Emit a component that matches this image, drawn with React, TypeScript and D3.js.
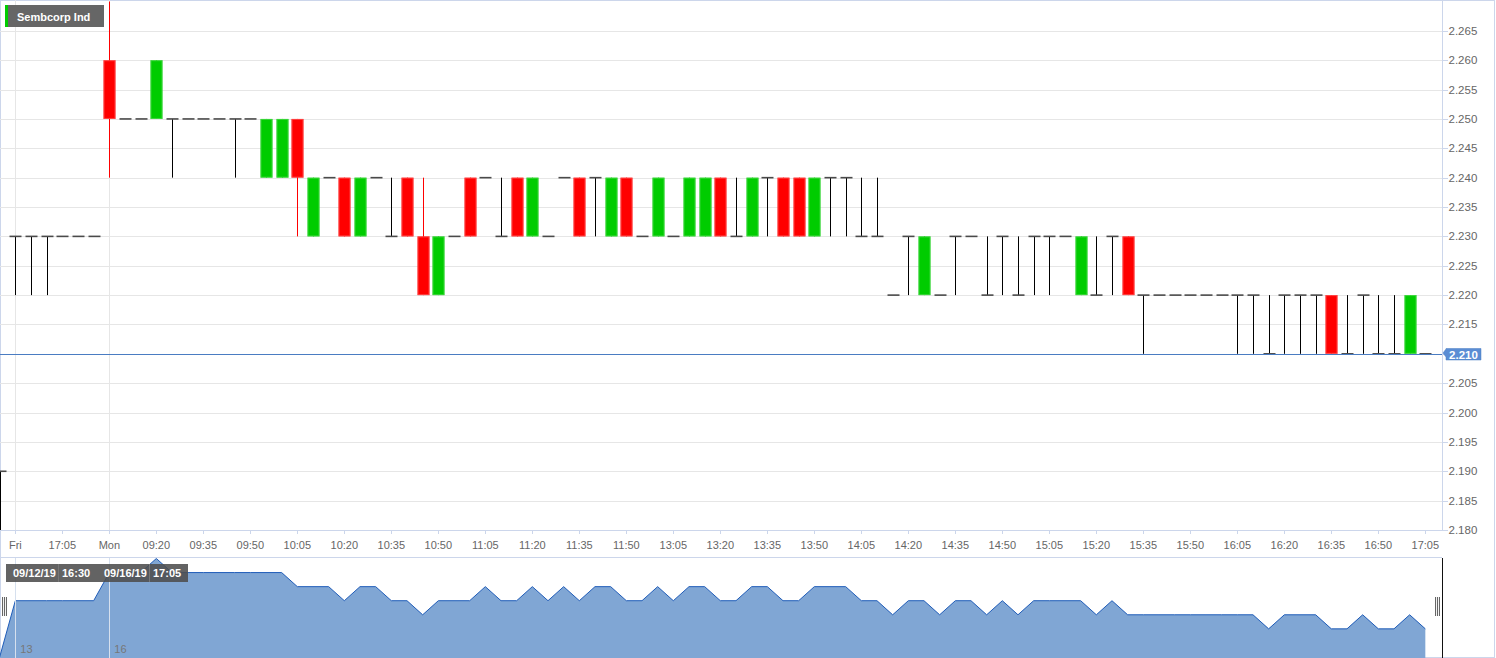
import React, { useEffect } from "react";
import * as d3 from "d3";

// ---------- DATA ----------
const seriesName = "Sembcorp Ind";

const times = [
  "09/12 16:30",
  "16:50", "16:55", "17:00", "17:05", "17:10", "17:15",
  "09:05", "09:10", "09:15", "09:20", "09:25", "09:30", "09:35", "09:40", "09:45", "09:50",
  "09:55", "10:00", "10:05", "10:10", "10:15", "10:20", "10:25", "10:30", "10:35", "10:40",
  "10:45", "10:50", "10:55", "11:00", "11:05", "11:10", "11:15", "11:20", "11:25", "11:30",
  "11:35", "11:40", "11:45", "11:50", "11:55", "12:00",
  "13:05", "13:10", "13:15", "13:20", "13:25", "13:30", "13:35", "13:40", "13:45", "13:50",
  "13:55", "14:00", "14:05", "14:10", "14:15", "14:20", "14:25", "14:30", "14:35", "14:40",
  "14:45", "14:50", "14:55", "15:00", "15:05", "15:10", "15:15", "15:20", "15:25", "15:30",
  "15:35", "15:40", "15:45", "15:50", "15:55", "16:00", "16:05", "16:10", "16:15", "16:20",
  "16:25", "16:30", "16:35", "16:40", "16:45", "16:50", "16:55", "17:00", "17:05",
];

const opens = [
  2.19,
  2.23, 2.23, 2.23, 2.23, 2.23, 2.23,
  2.26, 2.25, 2.25, 2.25, 2.25, 2.25, 2.25, 2.25, 2.25, 2.25,
  2.24, 2.24, 2.25, 2.23, 2.24, 2.24, 2.23, 2.24, 2.23, 2.24,
  2.23, 2.22, 2.23, 2.24, 2.24, 2.23, 2.24, 2.23, 2.23, 2.24,
  2.24, 2.24, 2.23, 2.24, 2.23, 2.23,
  2.23, 2.23, 2.23, 2.24, 2.23, 2.23, 2.24, 2.24, 2.24, 2.23,
  2.24, 2.24, 2.23, 2.23, 2.22, 2.23, 2.22, 2.22, 2.23, 2.23,
  2.22, 2.23, 2.22, 2.23, 2.23, 2.23, 2.22, 2.22, 2.23, 2.23,
  2.22, 2.22, 2.22, 2.22, 2.22, 2.22, 2.22, 2.22, 2.21, 2.22,
  2.22, 2.22, 2.22, 2.21, 2.22, 2.21, 2.21, 2.21, 2.21,
];
const highs = [
  2.19,
  2.23, 2.23, 2.23, 2.23, 2.23, 2.23,
  2.27, 2.25, 2.25, 2.26, 2.25, 2.25, 2.25, 2.25, 2.25, 2.25,
  2.25, 2.25, 2.25, 2.24, 2.24, 2.24, 2.24, 2.24, 2.24, 2.24,
  2.24, 2.23, 2.23, 2.24, 2.24, 2.24, 2.24, 2.24, 2.23, 2.24,
  2.24, 2.24, 2.24, 2.24, 2.23, 2.24,
  2.23, 2.24, 2.24, 2.24, 2.24, 2.24, 2.24, 2.24, 2.24, 2.24,
  2.24, 2.24, 2.24, 2.24, 2.22, 2.23, 2.23, 2.22, 2.23, 2.23,
  2.23, 2.23, 2.23, 2.23, 2.23, 2.23, 2.23, 2.23, 2.23, 2.23,
  2.22, 2.22, 2.22, 2.22, 2.22, 2.22, 2.22, 2.22, 2.22, 2.22,
  2.22, 2.22, 2.22, 2.22, 2.22, 2.22, 2.22, 2.22, 2.21,
];
const lows = [
  2.17,
  2.22, 2.22, 2.22, 2.23, 2.23, 2.23,
  2.24, 2.25, 2.25, 2.25, 2.24, 2.25, 2.25, 2.25, 2.24, 2.25,
  2.24, 2.24, 2.23, 2.23, 2.24, 2.23, 2.23, 2.24, 2.23, 2.23,
  2.22, 2.22, 2.23, 2.23, 2.24, 2.23, 2.23, 2.23, 2.23, 2.24,
  2.23, 2.23, 2.23, 2.23, 2.23, 2.23,
  2.23, 2.23, 2.23, 2.23, 2.23, 2.23, 2.23, 2.23, 2.23, 2.23,
  2.23, 2.23, 2.23, 2.23, 2.22, 2.22, 2.22, 2.22, 2.22, 2.23,
  2.22, 2.22, 2.22, 2.22, 2.22, 2.23, 2.22, 2.22, 2.22, 2.22,
  2.21, 2.22, 2.22, 2.22, 2.22, 2.22, 2.21, 2.21, 2.21, 2.21,
  2.21, 2.21, 2.21, 2.21, 2.21, 2.21, 2.21, 2.21, 2.21,
];
const closes = [
  2.19,
  2.23, 2.23, 2.23, 2.23, 2.23, 2.23,
  2.25, 2.25, 2.25, 2.26, 2.25, 2.25, 2.25, 2.25, 2.25, 2.25,
  2.25, 2.25, 2.24, 2.24, 2.24, 2.23, 2.24, 2.24, 2.23, 2.23,
  2.22, 2.23, 2.23, 2.23, 2.24, 2.23, 2.23, 2.24, 2.23, 2.24,
  2.23, 2.24, 2.24, 2.23, 2.23, 2.24,
  2.23, 2.24, 2.24, 2.23, 2.23, 2.24, 2.24, 2.23, 2.23, 2.24,
  2.24, 2.24, 2.23, 2.23, 2.22, 2.23, 2.23, 2.22, 2.23, 2.23,
  2.22, 2.23, 2.22, 2.23, 2.23, 2.23, 2.23, 2.22, 2.23, 2.22,
  2.22, 2.22, 2.22, 2.22, 2.22, 2.22, 2.22, 2.22, 2.21, 2.22,
  2.22, 2.22, 2.21, 2.21, 2.22, 2.21, 2.21, 2.22, 2.21,
];

const xTickIdx = [1, 4, 7, 10, 13, 16, 19, 22, 25, 28, 31, 34, 37, 40, 43, 46, 49, 52, 55, 58, 61, 64, 67, 70, 73, 76, 79, 82, 85, 88, 91];
const xTickLabels = ["Fri", "17:05", "Mon", "09:20", "09:35", "09:50", "10:05", "10:20", "10:35", "10:50", "11:05", "11:20", "11:35", "11:50", "13:05", "13:20", "13:35", "13:50", "14:05", "14:20", "14:35", "14:50", "15:05", "15:20", "15:35", "15:50", "16:05", "16:20", "16:35", "16:50", "17:05"];
const dayLineIdx = [1, 7];
const navDayLabels = ["13", "16"];
const yTicks = [2.18, 2.185, 2.19, 2.195, 2.2, 2.205, 2.21, 2.215, 2.22, 2.225, 2.23, 2.235, 2.24, 2.245, 2.25, 2.255, 2.26, 2.265];
const lastPrice = 2.21;
const rangeLabels = [["09/12/19", "16:30"], ["09/16/19", "17:05"]];

// ---------- LAYOUT ----------
const W = 1496, H = 658;
const PL = 0, PR = 1442, PT = 0, PB = 530;
const NT = 558, NB = 658;
const FONT = "'Liberation Sans', Arial, Helvetica, sans-serif";
const RED = "#ff0000", GREEN = "#00cc00";

export default function App() {
  useEffect(() => {
    document.body.style.margin = "0";
  }, []);

  const n = closes.length;
  const x = d3.scaleLinear().domain([0, n - 1]).range([-0.33, 1425.33]);
  const y = d3.scaleLinear().domain([2.18, 2.27]).range([PB, 1.5]);
  const ny = d3.scaleLinear().domain([d3.min(closes)!, d3.max(closes)!]).range([657, 558.5]);
  const fmt = d3.format(".3f");

  const area = d3.area<number>().x((_, i) => x(i)).y0(NB).y1((d) => ny(d));
  const line = d3.line<number>().x((_, i) => x(i)).y((d) => ny(d));

  const candles = closes.map((c, i) => {
    const o = opens[i], h = highs[i], l = lows[i];
    const cx = Math.max(0.5, Math.round(x(i)) + 0.5);
    if (Math.abs(o - c) < 1e-9) {
      return (
        <g key={i}>
          {h - l > 1e-9 && <line x1={cx} x2={cx} y1={y(h)} y2={y(l)} stroke="#000" strokeWidth={1} />}
          <line x1={cx - 6} x2={cx + 6} y1={y(o)} y2={y(o)} stroke="#4a4a4a" strokeWidth={1.6} />
        </g>
      );
    }
    const up = c > o;
    const col = up ? GREEN : RED;
    const top = y(Math.max(o, c)), bot = y(Math.min(o, c));
    return (
      <g key={i}>
        <line x1={cx} x2={cx} y1={y(h)} y2={y(l)} stroke={col} strokeWidth={1} />
        <rect x={cx - 6} y={top} width={12} height={bot - top} fill={col} />
        <rect x={cx - 5.5} y={top + 0.5} width={11} height={bot - top - 1} fill="none" stroke={up ? "#5fdc5f" : "#ff6a6a"} strokeWidth={1} opacity={0.6} />
      </g>
    );
  });

  const py = Math.round(y(lastPrice)) + 0.5;

  return (
    <svg width={W} height={H} style={{ display: "block", position: "absolute", left: 0, top: 0 }} fontFamily={FONT}>
      <defs>
        <clipPath id="plotClip"><rect x={PL} y={PT} width={PR - PL} height={PB - PT} /></clipPath>
        <clipPath id="navClip"><rect x={0} y={NT} width={PR} height={NB - NT} /></clipPath>
      </defs>
      <rect x={0} y={0} width={W} height={H} fill="#fff" />
      {/* outer frame */}
      <rect x={0.5} y={0.5} width={1494} height={657} fill="none" stroke="#ccd6eb" />

      {/* grid */}
      {yTicks.map((t) => (
        <line key={"g" + t} x1={PL} x2={PR} y1={Math.round(y(t)) + 0.5} y2={Math.round(y(t)) + 0.5} stroke="#e6e6e6" />
      ))}
      {dayLineIdx.map((i) => (
        <line key={"v" + i} x1={Math.round(x(i)) + 0.5} x2={Math.round(x(i)) + 0.5} y1={PT} y2={PB} stroke="#e6e6e6" />
      ))}

      {/* candles */}
      <g clipPath="url(#plotClip)">{candles}</g>

      {/* last price line */}
      <line x1={PL} x2={PR} y1={py} y2={py} stroke="#4a7cc2" strokeWidth={1} />

      {/* axes frame */}
      <line x1={PR + 0.5} x2={PR + 0.5} y1={0} y2={PB} stroke="#ccd6eb" />
      <line x1={0} x2={PR} y1={PB + 0.5} y2={PB + 0.5} stroke="#ccd6eb" />

      {/* y axis */}
      {yTicks.map((t) => (
        <g key={"yt" + t}>
          <line x1={PR} x2={PR + 6} y1={Math.round(y(t)) + 0.5} y2={Math.round(y(t)) + 0.5} stroke="#ccd6eb" />
          <text x={PR + 6.5} y={y(t)} dy="0.35em" fontSize={11.5} fill="#666">{fmt(t)}</text>
        </g>
      ))}

      {/* last price label */}
      <g>
        <path d={`M${PR + 1},${py} L${PR + 4},${py - 4} L${PR + 4},${py - 4.5} L${PR + 39},${py - 4.5} L${PR + 39},${py + 7} L${PR + 4},${py + 7} L${PR + 4},${py + 4} Z`}
          transform={`translate(0,-1.5)`} fill="#5b8dd4" stroke="#4a7cc2" strokeWidth={0.5} />
        <text x={PR + 21.5} y={py} dy="0.35em" textAnchor="middle" fontSize={11.5} fontWeight="bold" fill="#fff">{fmt(lastPrice)}</text>
      </g>

      {/* x axis */}
      {xTickIdx.map((i, k) => (
        <g key={"xt" + i}>
          <line x1={Math.round(x(i)) + 0.5} x2={Math.round(x(i)) + 0.5} y1={PB} y2={PB + 4} stroke="#ccd6eb" />
          <text x={x(i)} y={549} textAnchor="middle" fontSize={11} fill="#666">{xTickLabels[k]}</text>
        </g>
      ))}

      {/* navigator */}
      <line x1={0} x2={PR} y1={NT - 0.5} y2={NT - 0.5} stroke="#ccd6eb" />
      <g clipPath="url(#navClip)">
        <path d={area(closes) || ""} fill="#80a6d4" />
        <path d={line(closes) || ""} fill="none" stroke="#1f5cb8" strokeWidth={1} />
      </g>
      {dayLineIdx.map((i, k) => (
        <g key={"nd" + i}>
          <line x1={Math.round(x(i)) + 0.5} x2={Math.round(x(i)) + 0.5} y1={NT} y2={NB} stroke="#d6e0ee" strokeWidth={1} />
          <text x={x(i) + 5} y={653} fontSize={11} fill="#777">{navDayLabels[k]}</text>
        </g>
      ))}
      <line x1={PR + 0.5} x2={PR + 0.5} y1={NT} y2={NB} stroke="#111" />
      {/* handles */}
      {[2, 1435].map((hx) => (
        <g key={"h" + hx}>
          <rect x={hx} y={597} width={5} height={19} fill="#f2f2f2" />
          {[0.5, 2.5, 4.5].map((o) => (
            <line key={o} x1={hx + o} x2={hx + o} y1={597} y2={616} stroke="#666" strokeWidth={1} />
          ))}
        </g>
      ))}
      {/* range labels */}
      {rangeLabels.map(([dt, tm], k) => {
        const bx = k === 0 ? 6 : 97;
        return (
          <g key={"rl" + k}>
            <rect x={bx} y={564} width={91} height={18} fill="#4d4d4d" opacity={0.88} />
            <text x={bx + 7} y={577} fontSize={11} fontWeight="bold" fill="#fff">{dt}</text>
            <line x1={bx + 52.5} x2={bx + 52.5} y1={564} y2={582} stroke="#777" />
            <text x={bx + 56} y={577} fontSize={11} fontWeight="bold" fill="#fff">{tm}</text>
          </g>
        );
      })}

      {/* legend */}
      <rect x={5} y={5} width={99} height={22} fill="#666" />
      <rect x={5} y={5} width={3} height={22} fill={GREEN} />
      <text x={17} y={20.5} fontSize={11} fontWeight="bold" fill="#fff">{seriesName}</text>
    </svg>
  );
}
